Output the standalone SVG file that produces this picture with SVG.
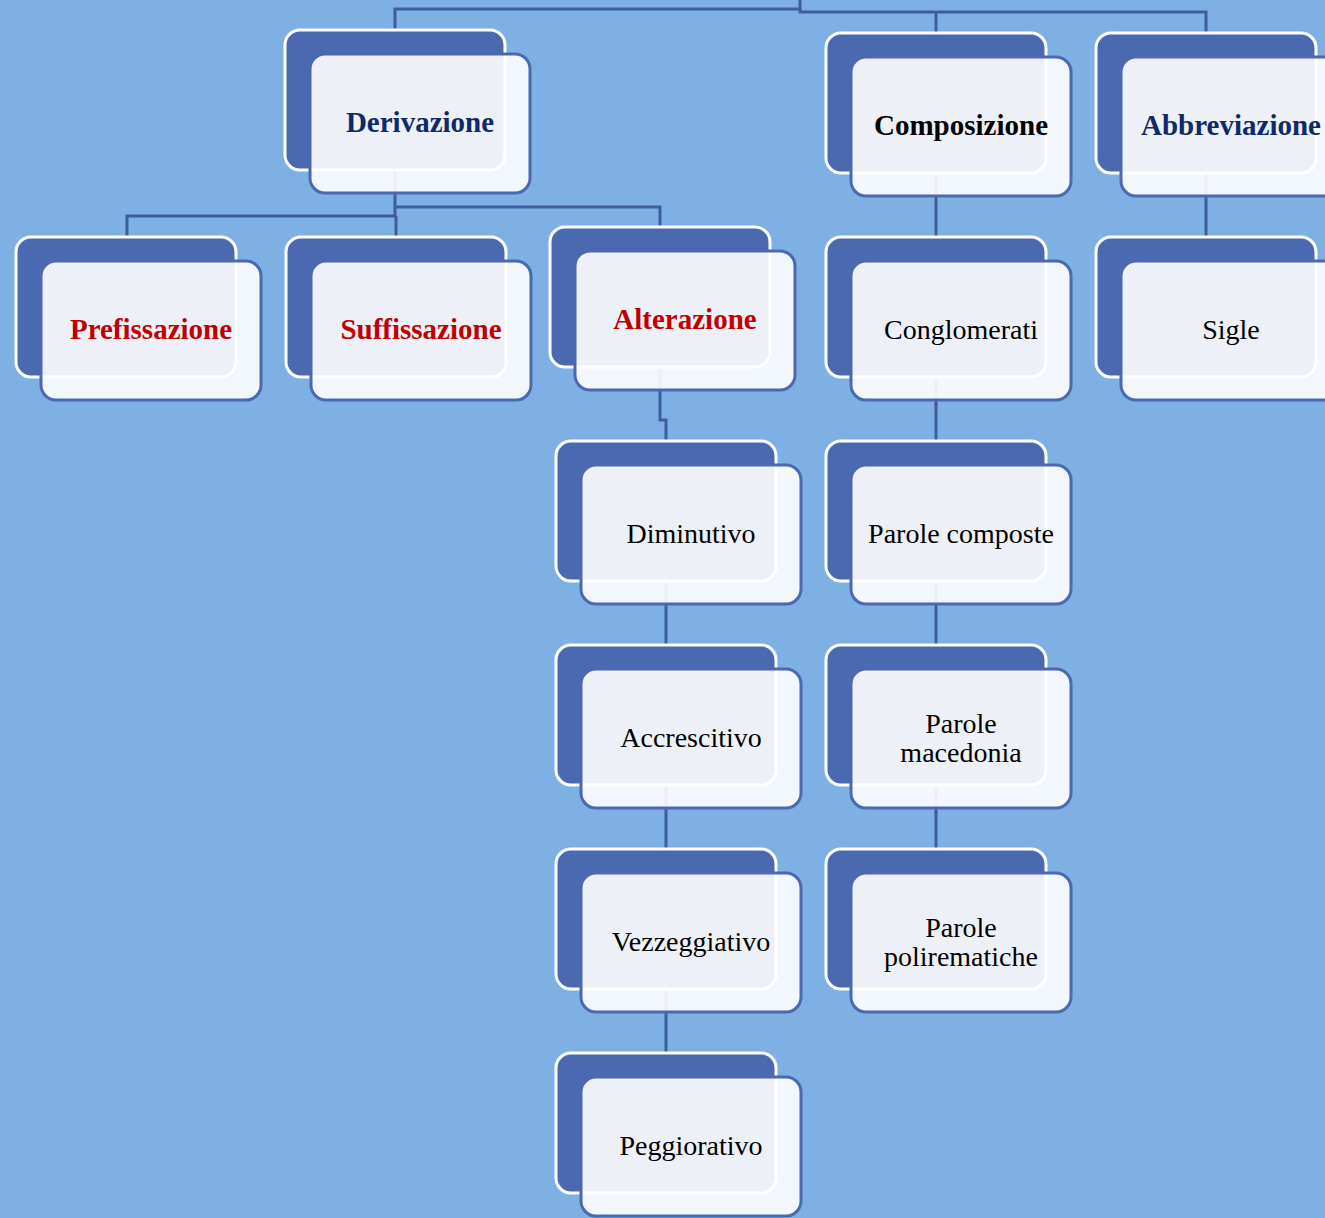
<svg xmlns="http://www.w3.org/2000/svg" width="1325" height="1218" viewBox="0 0 1325 1218">
<style>
.bg{fill:#7EB0E4}
.back{fill:#4A69B0;stroke:#FFFFFF;stroke-width:3}
.front{fill:#FFFFFF;fill-opacity:0.9;stroke:#4A69B0;stroke-width:3}
.con{fill:none;stroke:#3E5C9E;stroke-width:3}
text{font-family:"Liberation Serif","Times New Roman",serif;font-size:28px;text-anchor:middle;fill:#000}
.b{font-weight:bold;font-size:29px}
.navy{fill:#10296A}
.red{fill:#C00000}
</style>
<rect class="bg" x="0" y="0" width="1325" height="1218"/>
<g id="connectors">
<polyline class="con" points="800,0 800,9 395,9 395,30"/>
<polyline class="con" points="800,9 800,12 1206,12 1206,33"/>
<polyline class="con" points="936,12 936,33"/>
<polyline class="con" points="395,170 395,216 127,216 127,237"/>
<polyline class="con" points="396,216 396,237"/>
<polyline class="con" points="395,207 660,207 660,227"/>
<polyline class="con" points="660,366 660,420 666,420 666,441"/>
<polyline class="con" points="666,580 666,645"/>
<polyline class="con" points="666,785 666,849"/>
<polyline class="con" points="666,989 666,1053"/>
<polyline class="con" points="936,173 936,237"/>
<polyline class="con" points="936,377 936,441"/>
<polyline class="con" points="936,580 936,645"/>
<polyline class="con" points="936,785 936,849"/>
<polyline class="con" points="1206,173 1206,237"/>
</g>
<g id="derivazione">
<rect class="back" x="285" y="30" width="220" height="140" rx="15"/>
<rect class="front" x="310" y="54" width="220" height="139" rx="15"/>
<text class="b navy" x="420" y="132">Derivazione</text>
</g>
<g id="composizione">
<rect class="back" x="826" y="33" width="220" height="140" rx="15"/>
<rect class="front" x="851" y="57" width="220" height="139" rx="15"/>
<text class="b" x="961" y="135">Composizione</text>
</g>
<g id="abbreviazione">
<rect class="back" x="1096" y="33" width="220" height="140" rx="15"/>
<rect class="front" x="1121" y="57" width="220" height="139" rx="15"/>
<text class="b navy" x="1231" y="135">Abbreviazione</text>
</g>
<g id="prefissazione">
<rect class="back" x="16" y="237" width="220" height="140" rx="15"/>
<rect class="front" x="41" y="261" width="220" height="139" rx="15"/>
<text class="b red" x="151" y="339">Prefissazione</text>
</g>
<g id="suffissazione">
<rect class="back" x="286" y="237" width="220" height="140" rx="15"/>
<rect class="front" x="311" y="261" width="220" height="139" rx="15"/>
<text class="b red" x="421" y="339">Suffissazione</text>
</g>
<g id="alterazione">
<rect class="back" x="550" y="227" width="220" height="140" rx="15"/>
<rect class="front" x="575" y="251" width="220" height="139" rx="15"/>
<text class="b red" x="685" y="329">Alterazione</text>
</g>
<g id="conglomerati">
<rect class="back" x="826" y="237" width="220" height="140" rx="15"/>
<rect class="front" x="851" y="261" width="220" height="139" rx="15"/>
<text x="961" y="339">Conglomerati</text>
</g>
<g id="sigle">
<rect class="back" x="1096" y="237" width="220" height="140" rx="15"/>
<rect class="front" x="1121" y="261" width="220" height="139" rx="15"/>
<text x="1231" y="339">Sigle</text>
</g>
<g id="diminutivo">
<rect class="back" x="556" y="441" width="220" height="140" rx="15"/>
<rect class="front" x="581" y="465" width="220" height="139" rx="15"/>
<text x="691" y="543">Diminutivo</text>
</g>
<g id="accrescitivo">
<rect class="back" x="556" y="645" width="220" height="140" rx="15"/>
<rect class="front" x="581" y="669" width="220" height="139" rx="15"/>
<text x="691" y="747">Accrescitivo</text>
</g>
<g id="vezzeggiativo">
<rect class="back" x="556" y="849" width="220" height="140" rx="15"/>
<rect class="front" x="581" y="873" width="220" height="139" rx="15"/>
<text x="691" y="951">Vezzeggiativo</text>
</g>
<g id="peggiorativo">
<rect class="back" x="556" y="1053" width="220" height="140" rx="15"/>
<rect class="front" x="581" y="1077" width="220" height="139" rx="15"/>
<text x="691" y="1155">Peggiorativo</text>
</g>
<g id="parole-composte">
<rect class="back" x="826" y="441" width="220" height="140" rx="15"/>
<rect class="front" x="851" y="465" width="220" height="139" rx="15"/>
<text x="961" y="543">Parole composte</text>
</g>
<g id="parole-macedonia">
<rect class="back" x="826" y="645" width="220" height="140" rx="15"/>
<rect class="front" x="851" y="669" width="220" height="139" rx="15"/>
<text x="961" y="733">Parole</text>
<text x="961" y="762">macedonia</text>
</g>
<g id="parole-polirematiche">
<rect class="back" x="826" y="849" width="220" height="140" rx="15"/>
<rect class="front" x="851" y="873" width="220" height="139" rx="15"/>
<text x="961" y="937">Parole</text>
<text x="961" y="966">polirematiche</text>
</g>
</svg>
